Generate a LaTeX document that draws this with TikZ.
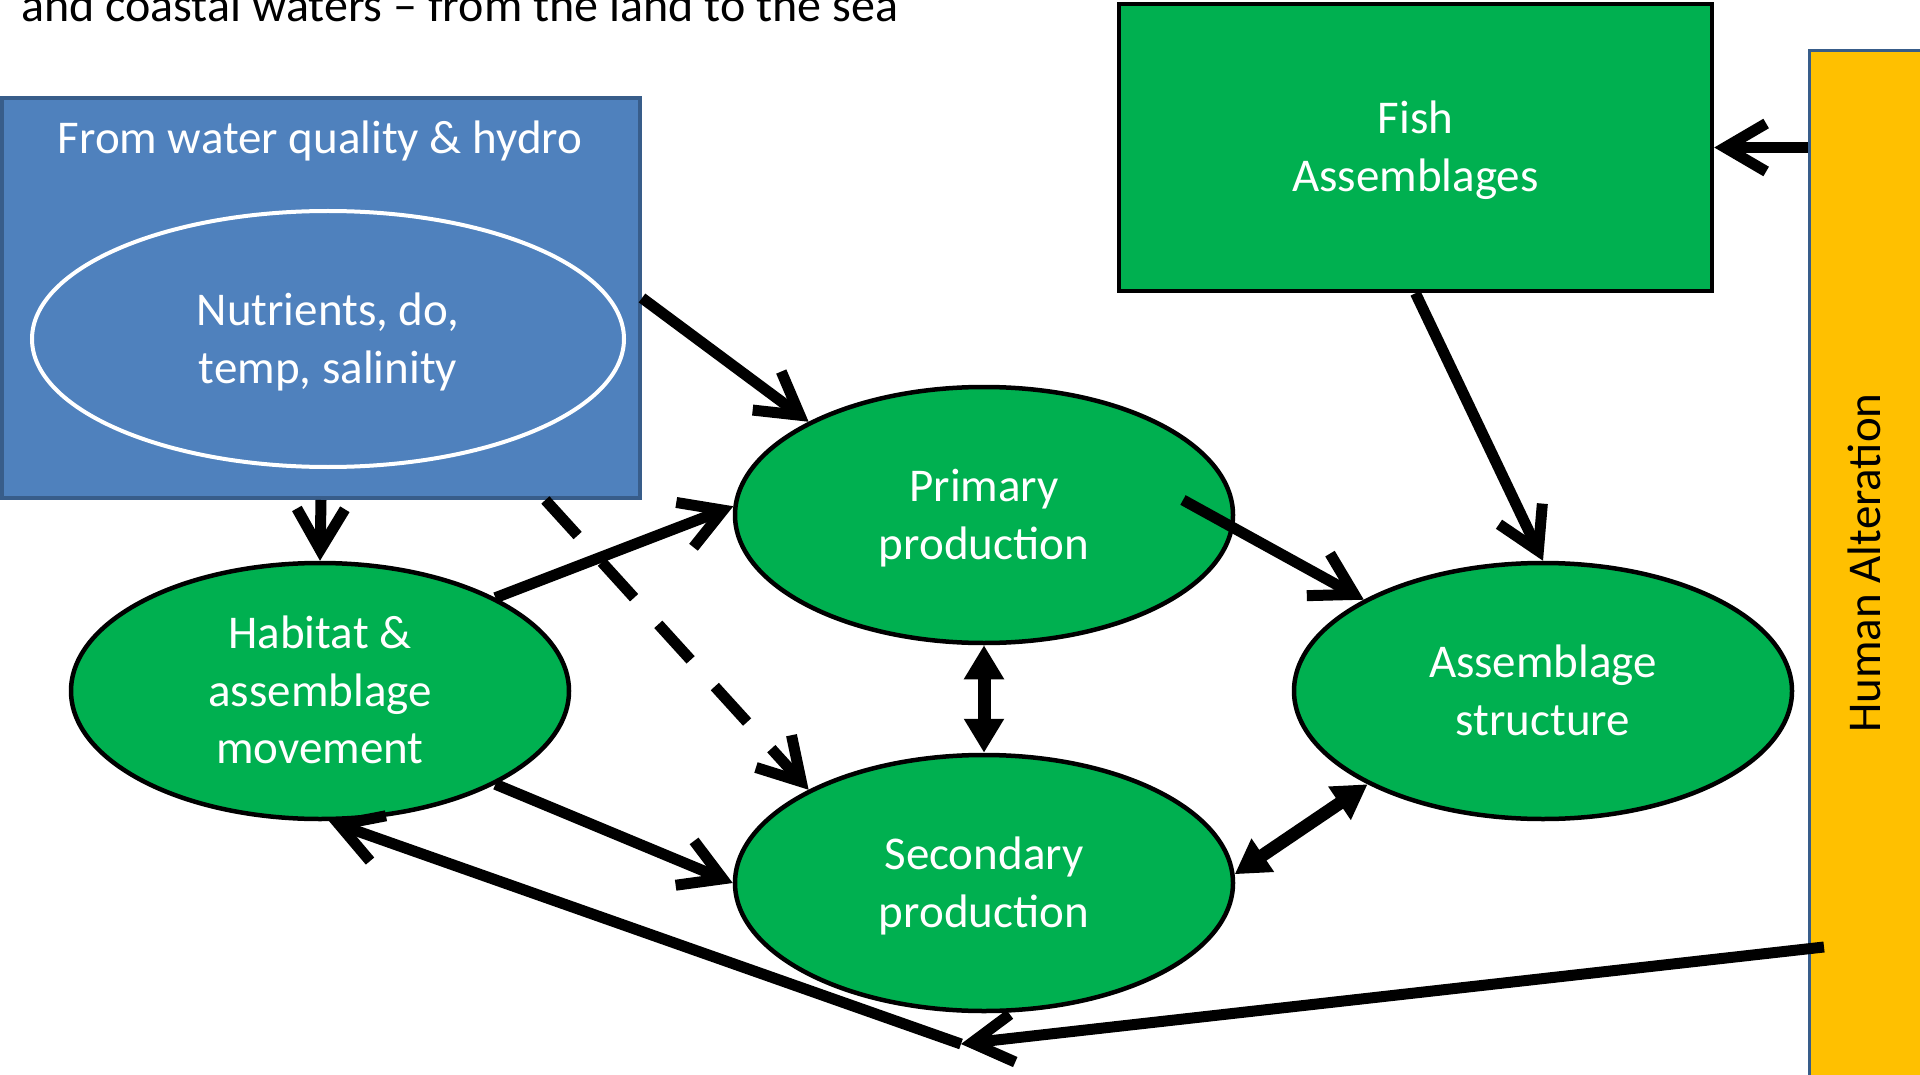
\documentclass[tikz,border=0pt]{standalone}
\usepackage{fontspec}
\setmainfont{Carlito}
\usetikzlibrary{arrows.meta,shapes.geometric,calc}
\definecolor{bluefill}{HTML}{4F81BD}
\definecolor{blueedge}{HTML}{385D8A}
\definecolor{grn}{HTML}{00B050}
\definecolor{orng}{HTML}{FFC000}
\newcommand{\mystrut}{\rule[-13.25pt]{0pt}{57pt}}
\begin{document}
\begin{tikzpicture}[x=1pt,y=-1pt,
  bigfont/.style={font=\fontsize{47}{57.5}\selectfont},
  txt/.style={bigfont, text=white, align=center},
  oval/.style={ellipse, draw=black, line width=4.5pt, fill=grn, minimum width=498pt, minimum height=256pt, inner sep=0pt},
  link/.style={line width=11pt, -{Straight Barb[length=41pt,width=48pt]}},
  dlink/.style={line width=13pt, {Triangle[length=34pt,width=38pt]}-{Triangle[length=34pt,width=38pt]}}]
\useasboundingbox (0,0) rectangle (1920,1075);
\fill[white] (0,0) rectangle (1920,1075);

% top caption (cut off at top)
\node[font=\fontsize{48}{58}\selectfont, anchor=base west, inner sep=0pt] (toptext) at (21,22) {and coastal waters – from the land to the sea};

% blue source box
\node[draw=blueedge, line width=4pt, fill=bluefill, minimum width=638pt, minimum height=400pt, inner sep=0pt] (blue) at (321,298) {};
\node[txt] (bluetitle) at (320,138) {\mystrut From water quality \& hydro};
\node[ellipse, draw=white, line width=4pt, minimum width=592pt, minimum height=256pt, inner sep=0pt, txt] (nutr) at (328,339) {\mystrut Nutrients, do,\\\mystrut temp, salinity};

% fish box
\node[draw=black, line width=4.5pt, fill=grn, minimum width=593pt, minimum height=287pt, inner sep=0pt, txt] (fish) at (1415.5,147.5) {\mystrut Fish\\\mystrut Assemblages};

% human alteration bar
\node[draw=blueedge, line width=3pt, fill=orng, minimum width=126pt, minimum height=1040pt, inner sep=0pt] (human) at (1872,571) {};
\node[bigfont, rotate=90] (humantxt) at (1864,563) {Human Alteration};

% green ellipses
\node[oval, txt] (primary) at (984,515) {\mystrut Primary\\\mystrut production};
\node[oval, txt] (secondary) at (984,883) {\mystrut Secondary\\\mystrut production};
\node[oval, txt] (habitat) at (320,691) {\mystrut Habitat \&\\\mystrut assemblage\\\mystrut movement};
\node[oval, txt] (assemb) at (1543,691) {\mystrut Assemblage\\\mystrut structure};

% connectors
\draw[link] (blue.east) -- (primary.152);
\draw[link] (blue.south) -- (habitat.north);
\draw[link, dash pattern=on 48pt off 36pt] (blue.-42) -- (secondary.152);
\draw[link] (habitat.28) -- (primary.178);
\draw[link] (habitat.-28) -- (secondary.west);
\draw[link] ($(primary.center)+(199,-15)$) -- (assemb.153);
\draw[dlink] (primary.south) -- (secondary.north);
\draw[dlink] (assemb.-152) -- (secondary.2);
\draw[link] (fish.south) -- (assemb.north);
\draw[link] (human.west |- fish.east) -- (fish.east);
\coordinate (haout) at (1824,947);
\coordinate (junc) at (961,1044);
\draw[link] (haout) -- (junc);
\draw[link] (junc) -- (habitat.-86);
\end{tikzpicture}
\end{document}
